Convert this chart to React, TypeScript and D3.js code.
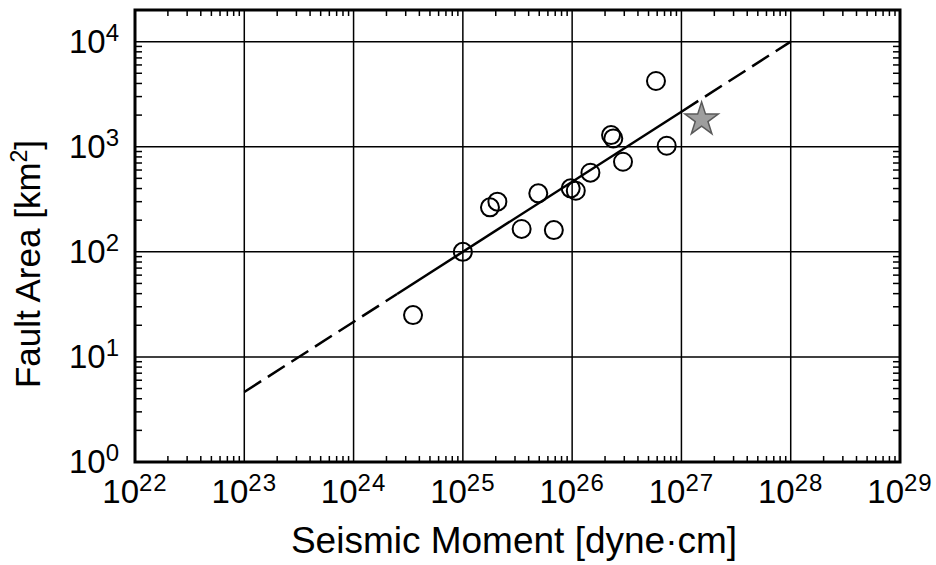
import React from 'react';
import * as d3 from 'd3';

// ---- data ----
const momentValues = [3.5e24, 1.0e25, 1.77e25, 2.07e25, 3.45e25, 4.9e25, 6.8e25, 9.7e25, 1.08e26, 1.47e26, 2.27e26, 2.38e26, 2.92e26, 5.85e26, 7.33e26];
const areaValues = [25, 100, 265, 300, 165, 360, 161, 402, 381, 566, 1290, 1200, 720, 4220, 1022];
const starMoments = [1.53e27];
const starAreas = [1815];
// scaling-law line (A ∝ M^(2/3)): dashed / solid / dashed pieces
const fitMomentsLow = [1e23, 2.5e24];
const fitAreasLow = [4.64, 39.7];
const fitMomentsMid = [2.5e24, 1e27];
const fitAreasMid = [39.7, 2154];
const fitMomentsHigh = [1e27, 1e28];
const fitAreasHigh = [2154, 10000];
const xExponents = [22, 23, 24, 25, 26, 27, 28, 29];
const yExponents = [0, 1, 2, 3, 4];
const xTitle = 'Seismic Moment [dyne·cm]';
const yTitleMain = 'Fault Area [km';
const yTitleSup = '2';
const yTitleEnd = ']';

const W = 936;
const H = 565;
const L = 135, R = 900, T = 10, B = 462;
const FONT = 'Liberation Sans, Arial, Helvetica, sans-serif';

export default function App() {
  const x = d3.scaleLog().domain([1e22, 1e29]).range([L, R]);
  const y = d3.scaleLog().domain([1, 2e4]).range([B, T]);

  const line = d3.line<[number, number]>().x(d => x(d[0])).y(d => y(d[1]));
  const seg = (ms: number[], as: number[]) => line(ms.map((m, i) => [m, as[i]] as [number, number])) || '';

  // minor ticks
  const xMinor: number[] = [];
  for (let e = 22; e < 29; e++) for (let k = 2; k <= 9; k++) xMinor.push(k * Math.pow(10, e));
  const yMinor: number[] = [];
  for (let e = 0; e < 5; e++) for (let k = 2; k <= 9; k++) { const v = k * Math.pow(10, e); if (v <= 2e4) yMinor.push(v); }

  const starPath = d3.symbol().type(d3.symbolStar).size(17.5 * 17.5 / 0.8908130915292852)() || '';

  return (
    <div style={{ position: 'fixed', left: 0, top: 0, width: W, height: H, background: '#fff' }}>
      <svg width={W} height={H} style={{ display: 'block', fontFamily: FONT }}>
        <rect x={0} y={0} width={W} height={H} fill="#fff" />
        {/* grid */}
        {xExponents.filter(e => e > 22 && e < 29).map(e => (
          <line key={'gx' + e} x1={x(Math.pow(10, e))} x2={x(Math.pow(10, e))} y1={T} y2={B} stroke="#000" strokeWidth={1.5} />
        ))}
        {yExponents.filter(e => e > 0).map(e => (
          <line key={'gy' + e} x1={L} x2={R} y1={y(Math.pow(10, e))} y2={y(Math.pow(10, e))} stroke="#000" strokeWidth={1.5} />
        ))}
        {/* minor ticks */}
        {xMinor.map((v, i) => (
          <g key={'xm' + i}>
            <line x1={x(v)} x2={x(v)} y1={B} y2={B - 6} stroke="#000" strokeWidth={1.5} />
            <line x1={x(v)} x2={x(v)} y1={T} y2={T + 6} stroke="#000" strokeWidth={1.5} />
          </g>
        ))}
        {yMinor.map((v, i) => (
          <g key={'ym' + i}>
            <line x1={L} x2={L + 7} y1={y(v)} y2={y(v)} stroke="#000" strokeWidth={1.5} />
            <line x1={R} x2={R - 7} y1={y(v)} y2={y(v)} stroke="#000" strokeWidth={1.5} />
          </g>
        ))}
        {/* fit line */}
        <path d={seg(fitMomentsLow, fitAreasLow)} fill="none" stroke="#000" strokeWidth={2.5} strokeDasharray="20,8" />
        <path d={seg(fitMomentsMid, fitAreasMid)} fill="none" stroke="#000" strokeWidth={2.5} />
        <path d={seg(fitMomentsHigh, fitAreasHigh)} fill="none" stroke="#000" strokeWidth={2.5} strokeDasharray="20,8" />
        {/* data circles */}
        {momentValues.map((m, i) => (
          <circle key={'c' + i} cx={x(m)} cy={y(areaValues[i])} r={9} fill="none" stroke="#000" strokeWidth={2} />
        ))}
        {/* star */}
        {starMoments.map((m, i) => (
          <path key={'s' + i} d={starPath} transform={`translate(${x(m)},${y(starAreas[i])})`} fill="#9e9e9e" stroke="#5a5a5a" strokeWidth={1.5} />
        ))}
        {/* frame */}
        <rect x={L} y={T} width={R - L} height={B - T} fill="none" stroke="#000" strokeWidth={3} />
        {/* x tick labels */}
        {xExponents.map(e => (
          <text key={'xl' + e} x={x(Math.pow(10, e))} y={503} textAnchor="middle" fontSize={33} fill="#000">
            10<tspan fontSize={24} dy={-12} letterSpacing={1}>{e}</tspan>
          </text>
        ))}
        {/* y tick labels */}
        {yExponents.map(e => (
          <text key={'yl' + e} x={119} y={y(Math.pow(10, e)) + 11} textAnchor="end" fontSize={33} fill="#000">
            10<tspan fontSize={24} dy={-12}>{e}</tspan>
          </text>
        ))}
        {/* axis titles */}
        <text x={514} y={553} textAnchor="middle" fontSize={37} fill="#000">{xTitle}</text>
        <text transform={`translate(40,${264}) rotate(-90)`} textAnchor="middle" fontSize={35} fill="#000">
          {yTitleMain}<tspan fontSize={23} dy={-13}>{yTitleSup}</tspan><tspan dy={13}>{yTitleEnd}</tspan>
        </text>
      </svg>
    </div>
  );
}
